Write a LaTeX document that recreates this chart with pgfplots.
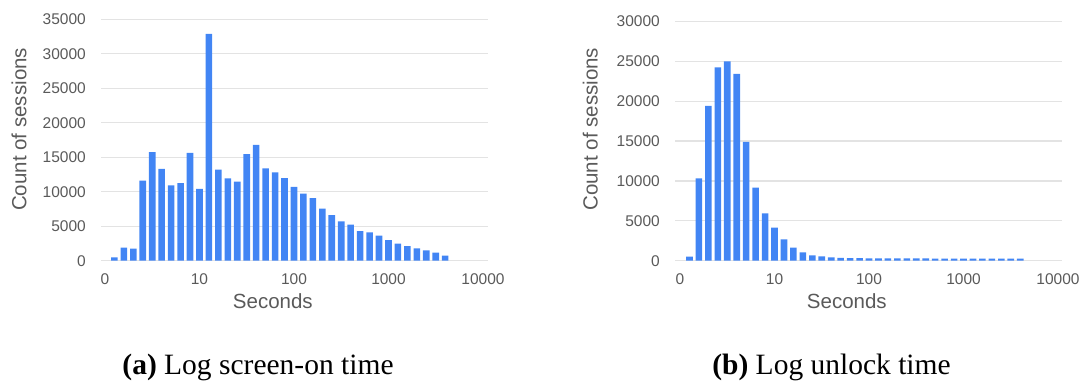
\documentclass[border=0pt]{standalone}
\usepackage{pgfplots}
\pgfplotsset{compat=1.18}
\usepackage{fontspec}
\setmainfont{Liberation Sans}
\newfontfamily\capfont{Liberation Serif}
\definecolor{barblue}{HTML}{4285F4}
\definecolor{gridgray}{HTML}{E3E3E3}
\definecolor{txtgray}{HTML}{5A5A5A}

\pgfplotstableread{
x y
0.1 480
0.2 1900
0.3 1760
0.4 11600
0.5 15750
0.6 13330
0.7 10920
0.8 11260
0.9 15650
1.0 10430
1.1 32900
1.2 13190
1.3 11930
1.4 11450
1.5 15460
1.6 16810
1.7 13380
1.8 12800
1.9 11980
2.0 10720
2.1 9710
2.2 9080
2.3 7540
2.4 6620
2.5 5700
2.6 5220
2.7 4300
2.8 4100
2.9 3620
3.0 3000
3.1 2460
3.2 2130
3.3 1790
3.4 1500
3.5 1160
3.6 725
}\screentable

\pgfplotstableread{
x y
0.1 500
0.2 10320
0.3 19390
0.4 24240
0.5 24990
0.6 23400
0.7 14880
0.8 9150
0.9 5930
1.0 4140
1.1 2670
1.2 1630
1.3 1045
1.4 670
1.5 540
1.6 420
1.7 350
1.8 320
1.9 310
2.0 300
2.1 300
2.2 290
2.3 290
2.4 280
2.5 280
2.6 280
2.7 270
2.8 270
2.9 270
3.0 260
3.1 260
3.2 260
3.3 260
3.4 250
3.5 250
3.6 250
}\unlocktable

\pgfplotsset{
  sheetstyle/.style={
    scale only axis,
    width=387pt,
    axis line style={draw=none},
    tick style={draw=none},
    ymajorgrids,
    grid style={gridgray, line width=1.2pt},
    major tick length=0pt,
    ymin=0,
    xtick={0,1,2,3,4},
    xticklabels={0,10,100,1000,10000},
    ytick distance=5000,
    scaled y ticks=false,
    /pgf/number format/assume math mode=true,
    yticklabel={\pgfmathprintnumber[fixed,1000 sep={}]{\tick}},
    ticklabel style={font=\fontsize{15.5}{18}\selectfont, text=txtgray},
    yticklabel style={anchor=east, inner sep=0pt, xshift=-15pt},
    xticklabel style={anchor=north, inner sep=0pt, yshift=-13pt},
    label style={font=\fontsize{20.5}{24}\selectfont, text=txtgray},
    xlabel={Seconds},
    ylabel={Count of sessions},
    xlabel style={at={(axis description cs:0.444,0)}, anchor=base, yshift=-47.3pt},
    clip=false,
  },
  sheetbar/.style={ybar, bar width=6.6pt, fill=barblue, draw=none, bar shift=0pt},
}

\begin{document}
\begin{tikzpicture}
\path[use as bounding box] (0,0) rectangle (1086pt,384pt);

\begin{axis}[sheetstyle,
  at={(101pt,123.3pt)}, anchor=south west,
  height=241.4pt,
  xmin=-0.0423, xmax=4.053,
  ymax=35000,
  ylabel style={at={(axis description cs:0,0.544)}, anchor=base, yshift=74.5pt},
]
\addplot[sheetbar] table[x=x,y=y] {\screentable};
\end{axis}

\begin{axis}[sheetstyle,
  at={(675pt,123.3pt)}, anchor=south west,
  height=239.4pt,
  xmin=-0.053, xmax=4.042,
  ymax=30000,
  ylabel style={at={(axis description cs:0,0.549)}, anchor=base, yshift=77.5pt},
]
\addplot[sheetbar] table[x=x,y=y] {\unlocktable};
\end{axis}

\node[anchor=base, inner sep=0pt, font=\capfont\fontsize{29.5}{34}\selectfont] at (258pt,9.7pt) {\textbf{(a)} Log screen-on time};
\node[anchor=base, inner sep=0pt, font=\capfont\fontsize{29.5}{34}\selectfont] at (831.5pt,9.7pt) {\textbf{(b)} Log unlock time};
\end{tikzpicture}
\end{document}
